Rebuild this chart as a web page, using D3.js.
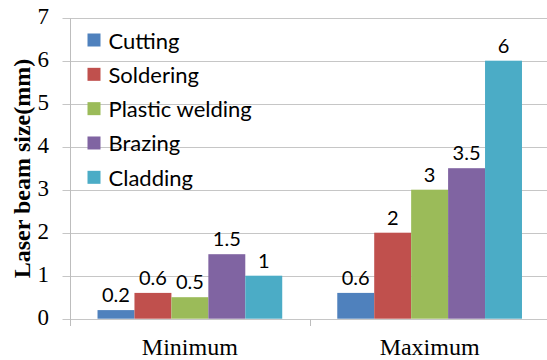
<!DOCTYPE html>
<html><head><meta charset="utf-8">
<script src="https://cdn.jsdelivr.net/npm/d3@7"></script>
<style>body{margin:0;background:#fff;}svg{display:block;}</style>
</head><body>
<script>
const categories = ["Minimum", "Maximum"];
const series = ["Cutting", "Soldering", "Plastic welding", "Brazing", "Cladding"];
const minimumValues = [0.2, 0.6, 0.5, 1.5, 1];
const maximumValues = [0.6, 2, 3, 3.5, 6];
const colors = ["#4F81BD", "#C0504D", "#9BBB59", "#8064A2", "#4BACC6"];
const yTicks = [0, 1, 2, 3, 4, 5, 6, 7];
const valuesByCategory = {"Minimum": minimumValues, "Maximum": maximumValues};

const W = 547, H = 360;
const svg = d3.select("body").append("svg").attr("width", W).attr("height", H);

const x0 = d3.scaleBand().domain(categories).range([70, 549.5]);
const x1 = d3.scaleBand().domain(series).range([0, x0.bandwidth()]).paddingInner(0).paddingOuter(0.745);
const y = d3.scaleLinear().domain([0, 7]).range([318.7, 17.7]);
const color = d3.scaleOrdinal().domain(series).range(colors);

// gridlines
svg.append("g").selectAll("line").data(yTicks).join("line")
  .attr("x1", 62.5).attr("x2", W)
  .attr("y1", d => Math.round(y(d)) + 0.5).attr("y2", d => Math.round(y(d)) + 0.5)
  .attr("stroke", "#c6c6c6").attr("stroke-width", 1);

// y axis line
svg.append("line").attr("x1", 70.5).attr("x2", 70.5)
  .attr("y1", Math.round(y(7)) + 0.5).attr("y2", 326).attr("stroke", "#bdbdbd");

// category separator tick
svg.append("g").selectAll("line").data([x0(categories[1])]).join("line")
  .attr("x1", d => Math.round(d) + 0.5).attr("x2", d => Math.round(d) + 0.5)
  .attr("y1", Math.round(y(0)) + 0.5).attr("y2", 326).attr("stroke", "#bdbdbd");

// y tick labels
svg.append("g").selectAll("text").data(yTicks).join("text")
  .attr("x", 49).attr("y", d => y(d) - 1.5)
  .attr("text-anchor", "end").attr("dominant-baseline", "central")
  .attr("font-family", "Liberation Serif, Times New Roman, serif").attr("font-size", 23)
  .attr("fill", "#000").text(d => d);

// x labels
svg.append("g").selectAll("text").data(categories).join("text")
  .attr("x", d => x0(d) + x0.bandwidth() / 2).attr("y", 355)
  .attr("text-anchor", "middle")
  .attr("font-family", "Liberation Serif, Times New Roman, serif").attr("font-size", 24)
  .attr("fill", "#000").text(d => d);

// bars
const groups = svg.append("g").selectAll("g").data(categories).join("g")
  .attr("transform", d => `translate(${x0(d)},0)`);
groups.selectAll("rect").data(c => series.map((s, i) => ({s, v: valuesByCategory[c][i]}))).join("rect")
  .attr("x", d => x1(d.s)).attr("width", x1.bandwidth())
  .attr("y", d => y(d.v)).attr("height", d => y(0) - y(d.v))
  .attr("fill", d => color(d.s));
groups.selectAll("text").data(c => series.map((s, i) => ({s, v: valuesByCategory[c][i]}))).join("text")
  .attr("x", d => x1(d.s) + x1.bandwidth() / 2).attr("y", d => y(d.v) - 8)
  .attr("text-anchor", "middle")
  .attr("font-family", "Lato, Open Sans, sans-serif").attr("font-size", 20)
  .attr("fill", "#000").text(d => d.v);

// legend
const leg = svg.append("g").selectAll("g").data(series).join("g")
  .attr("transform", (d, i) => `translate(87.5, ${40 + i * 34.33})`);
leg.append("rect").attr("x", 0).attr("y", -6.5).attr("width", 13).attr("height", 13)
  .attr("fill", d => color(d));
leg.append("text").attr("x", 21).attr("y", 0).attr("dominant-baseline", "central")
  .attr("font-family", "Lato, Open Sans, sans-serif").attr("font-size", 22)
  .attr("fill", "#000").text(d => d);

// y title
svg.append("text").attr("transform", "translate(22,168.5) rotate(-90)")
  .attr("text-anchor", "middle").attr("dominant-baseline", "central")
  .attr("font-family", "Liberation Serif, Times New Roman, serif").attr("font-size", 24)
  .attr("font-weight", "bold").attr("fill", "#000").text("Laser beam size(mm)");
</script>
</body></html>
